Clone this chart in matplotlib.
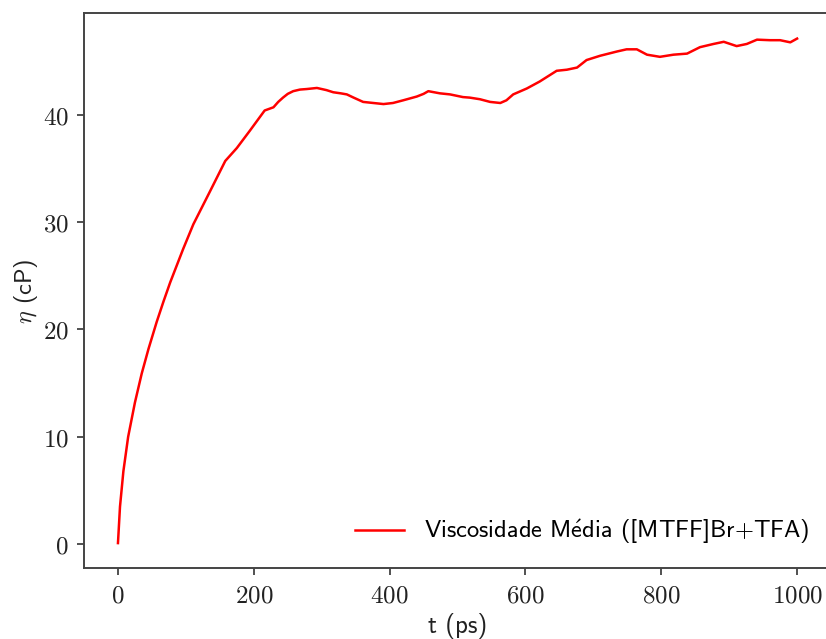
import matplotlib
matplotlib.use('Agg')
import matplotlib.pyplot as plt
from matplotlib.ticker import FixedLocator, FuncFormatter
from matplotlib.font_manager import FontProperties

t_ps = [0, 3, 8, 15, 25, 35, 45, 57, 67, 77, 96, 111, 135, 158, 175, 194, 216, 229,
        236, 243, 250, 258, 268, 278, 293, 307, 317, 328,
        337, 347, 361, 376, 391, 405, 420, 440, 450, 457, 474, 489, 508, 518, 533,
        548, 563, 572, 582, 602, 621, 646, 661, 676, 690, 710, 735, 749, 764, 779,
        798, 818, 838, 857, 877, 892, 911, 926, 941, 960, 975, 990, 1000]
eta_cp = [0.1, 3.5, 6.8, 10.0, 13.2, 15.9, 18.2, 20.7, 22.6, 24.4, 27.5, 29.8, 32.8,
          35.7, 36.9, 38.5, 40.4, 40.7, 41.2, 41.6,
          41.95, 42.2, 42.35, 42.4, 42.5, 42.3, 42.1, 42.0, 41.9, 41.6, 41.2, 41.1,
          41.0, 41.1, 41.35, 41.7, 41.95, 42.2, 42.0, 41.9, 41.65, 41.6, 41.45, 41.2,
          41.1, 41.35, 41.9, 42.45, 43.1, 44.1, 44.2, 44.4, 45.1, 45.5, 45.9, 46.1,
          46.1, 45.6, 45.4, 45.6, 45.7, 46.3, 46.6, 46.8, 46.4, 46.6, 47.0, 46.95,
          46.95, 46.75, 47.1]
x_ticks = [0, 200, 400, 600, 800, 1000]
y_ticks = [0, 10, 20, 30, 40]
legend_label = r'Viscosidade M$\mathsf{\acute{e}}$dia ([MTFF]Br+TFA)'

plt.rcParams['mathtext.fontset'] = 'cm'
fig = plt.figure(figsize=(8.26, 6.39), dpi=100)
ax = fig.add_axes([0.1017, 0.1106, 0.9044, 0.8685])
ax.plot(t_ps, eta_cp, color='red', lw=1.8, label=legend_label)

ax.xaxis.set_major_locator(FixedLocator(x_ticks))
ax.yaxis.set_major_locator(FixedLocator(y_ticks))
fmt = FuncFormatter(lambda v, p: r'$%d$' % int(round(v)))
ax.xaxis.set_major_formatter(fmt)
ax.yaxis.set_major_formatter(fmt)
ax.tick_params(labelsize=18, length=5, width=1.2, pad=6, colors='#333333', labelcolor='#222222')
for s in ax.spines.values():
    s.set_linewidth(1.4)
    s.set_color('#444444')

def cmss(size):
    return FontProperties(family=['cmss10', 'DejaVu Sans'], size=size)

ax.set_xlabel('t (ps)', fontproperties=cmss(18), color='#222222', labelpad=4)
ax.set_ylabel(r'$\eta$ (cP)', fontproperties=cmss(17.5), color='#222222', labelpad=2)
ax.legend(loc='lower right', frameon=False, prop=cmss(17.6))

fig.savefig('out.png', dpi=100)
